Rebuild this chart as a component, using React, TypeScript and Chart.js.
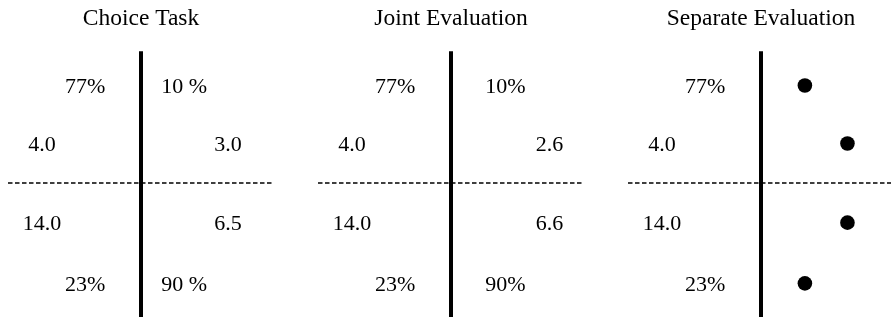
import React, { useEffect, useRef } from "react";
import { Chart, registerables } from "chart.js";

Chart.register(...registerables);

// ---- data ----
const panelTitles = ["Choice Task", "Joint Evaluation", "Separate Evaluation"];
const rowY = [0.74, 0.3, -0.3, -0.76];
const leftLabels = ["77%", "4.0", "14.0", "23%"];
const leftX = [-0.42, -0.745, -0.745, -0.42];
const choiceRightLabels = ["10 %", "3.0", "6.5", "90 %"];
const choiceRightX = [0.325, 0.655, 0.655, 0.325];
const jointRightLabels = ["10%", "2.6", "6.6", "90%"];
const jointRightX = [0.41, 0.74, 0.74, 0.41];
const separateDotX = [0.33, 0.65, 0.65, 0.33];

type PanelSpec = {
  title: string;
  rightLabels: string[] | null;
  rightX: number[];
};

const panels: PanelSpec[] = [
  { title: panelTitles[0], rightLabels: choiceRightLabels, rightX: choiceRightX },
  { title: panelTitles[1], rightLabels: jointRightLabels, rightX: jointRightX },
  { title: panelTitles[2], rightLabels: null, rightX: separateDotX },
];

const FONT = "'Liberation Serif', 'Times New Roman', serif";
const TEXT_DY = 1.5;

const textPlugin = {
  id: "cellText",
  afterDatasetsDraw(chart: any) {
    const spec: PanelSpec = chart.options.plugins.cellText.spec;
    const xs = chart.scales.x;
    const ys = chart.scales.y;
    const ctx = chart.ctx;
    ctx.save();
    ctx.fillStyle = "#000";
    ctx.font = `22px ${FONT}`;
    ctx.textAlign = "center";
    ctx.textBaseline = "middle";
    leftLabels.forEach((t, i) => {
      ctx.fillText(t, xs.getPixelForValue(leftX[i]), ys.getPixelForValue(rowY[i]) + TEXT_DY);
    });
    if (spec.rightLabels) {
      spec.rightLabels.forEach((t, i) => {
        ctx.fillText(t, xs.getPixelForValue(spec.rightX[i]), ys.getPixelForValue(rowY[i]) + TEXT_DY);
      });
    }
    ctx.restore();
  },
};

function Panel({ spec, left }: { spec: PanelSpec; left: number }) {
  const ref = useRef<HTMLCanvasElement | null>(null);
  useEffect(() => {
    if (!ref.current) return;
    const datasets: any[] = [
      {
        type: "line",
        data: [
          { x: -1, y: 0 },
          { x: 1, y: 0 },
        ],
        borderColor: "#000",
        borderWidth: 1.5,
        borderDash: [4.5, 2.5],
        pointRadius: 0,
        clip: false,
      },
      {
        type: "line",
        data: [
          { x: 0, y: -1.1 },
          { x: 0, y: 1 },
        ],
        borderColor: "#000",
        borderWidth: 4,
        pointRadius: 0,
        clip: false,
      },
    ];
    if (!spec.rightLabels) {
      datasets.push({
        type: "scatter",
        data: spec.rightX.map((x, i) => ({ x, y: rowY[i] })),
        backgroundColor: "#000",
        borderColor: "#000",
        pointRadius: 7.3,
        borderWidth: 0,
        clip: false,
      });
    }
    const chart = new Chart(ref.current, {
      type: "scatter",
      data: { datasets },
      options: {
        animation: false,
        responsive: false,
        maintainAspectRatio: false,
        layout: { autoPadding: false, padding: { top: 0, bottom: 2, left: 0, right: 0 } },
        scales: {
          x: { type: "linear", min: -1, max: 1, display: false },
          y: { type: "linear", min: -1, max: 1, display: false },
        },
        plugins: {
          legend: { display: false },
          tooltip: { enabled: false },
          title: {
            display: true,
            text: spec.title,
            color: "#000",
            font: { family: FONT, size: 23.5, weight: "normal", lineHeight: 1.2 },
            padding: { top: 5, bottom: 18 },
          },
          cellText: { spec },
        } as any,
      },
      plugins: [textPlugin],
    } as any);
    return () => chart.destroy();
  }, [spec]);
  return (
    <canvas
      ref={ref}
      width={266}
      height={317}
      style={{ position: "absolute", left, top: 0, width: 266, height: 317 }}
    />
  );
}

export default function App() {
  const lefts = [8, 318, 628];
  return (
    <div
      style={{
        position: "fixed",
        left: 0,
        top: 0,
        width: 891,
        height: 317,
        overflow: "hidden",
        background: "#fff",
      }}
    >
      {panels.map((p, i) => (
        <Panel key={i} spec={p} left={lefts[i]} />
      ))}
    </div>
  );
}
